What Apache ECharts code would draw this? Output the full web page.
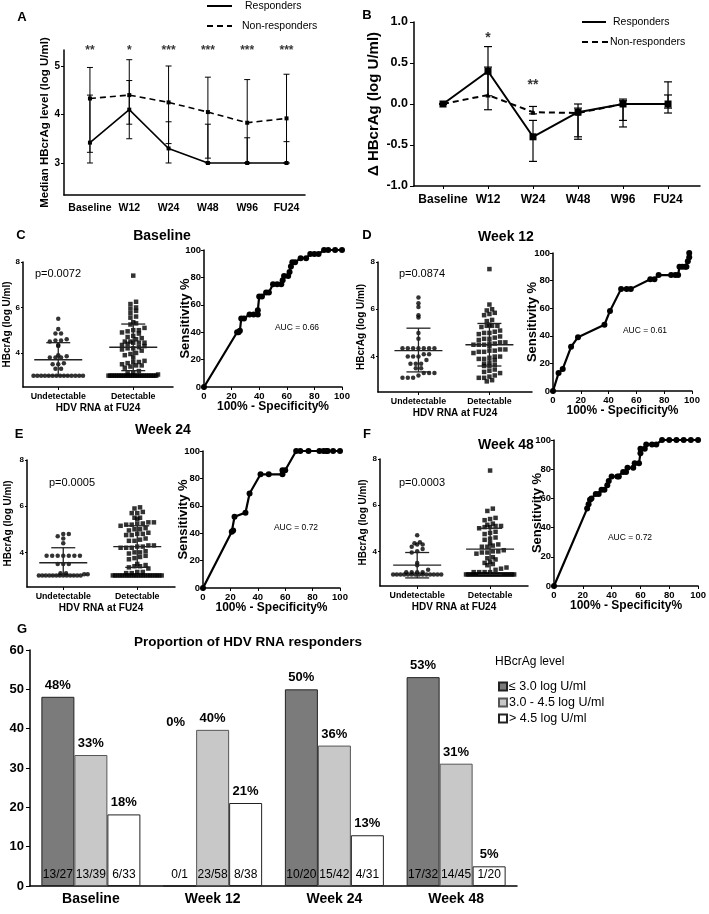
<!DOCTYPE html>
<html><head><meta charset="utf-8">
<script src="https://cdn.jsdelivr.net/npm/echarts@6/dist/echarts.min.js"></script>
<style>html,body{margin:0;padding:0;background:#fff}#c{width:709px;height:914px}</style>
</head><body><div id="c"></div><script>
// ---------------- DATA ----------------
const timeCats = ['Baseline','W12','W24','W48','W96','FU24'];
const aStars = ['**','*','***','***','***','***'];
const aRespMed = [3.42,4.10,3.30,3.00,3.00,3.00];
const aRespLo  = [3.00,3.50,3.00,3.00,3.00,3.00];
const aRespHi  = [4.40,4.70,3.85,3.80,3.52,3.44];
const aNonMed  = [4.33,4.40,4.25,4.05,3.83,3.92];
const aNonLo   = [3.22,3.80,3.40,3.10,3.00,3.00];
const aNonHi   = [4.97,5.13,5.00,4.77,4.72,4.83];

const bStars = ['','*','**','','',''];
const bRespMed = [0,0.40,-0.40,-0.10,0,0];
const bRespLo  = [0,0.10,-0.70,-0.43,-0.28,-0.11];
const bRespHi  = [0,0.70,-0.20,0.00,0.06,0.27];
const bNonMed  = [0,0.11,-0.10,-0.11,0,0];
const bNonLo   = [0,-0.07,-0.12,-0.40,-0.20,-0.05];
const bNonHi   = [0,0.45,-0.03,-0.05,0.04,0.11];

const seriesNames = ['Responders','Non-responders'];
const scatterGroups = ['Undetectable','Detectable'];

// Panel C (Baseline)
const cUnd = [5.5,5.05,4.85,4.85,4.6,4.55,4.55,4.5,4.35,4.3,3.9,3.85,3.8,3.8,3.8,3.55,3.5,3.5,3.3,3.3,
  3,3,3,3,3,3,3,3,3,3,3,3,3,3];
const cDet = [7.4,6.25,6.15,6.0,5.95,5.85,5.75,5.6,5.55,5.35,5.3,5.25,5.1,5.0,5.0,4.95,4.9,4.85,4.75,4.7,4.65,4.6,
  4.5,4.5,4.45,4.45,4.45,4.4,4.35,4.3,4.25,4.2,4.2,4.15,4.1,4.0,3.95,3.9,3.8,3.65,3.6,3.6,3.55,3.5,3.45,3.45,3.4,3.35,
  3.2,3.15,3.1,3.05,3,3,3,3,3,3,3,3,3,3,3,3,3,3,3,3,3,3,3,3,3,3,3,3,3,3,3,3];
const cUndStat = [3.70,3.00,4.45];   // median, lower, upper
const cDetStat = [4.25,3.22,5.27];
const cRocX = [0,24,25,26,27,29,33,36,39,39,40,42,45,47,50,53,56,57,58,61,62,63,64,66,70,74,77,80,83,87,90,95,100];
const cRocY = [0,40,40,41,50,50,53,53,53,56,66,66,69,69,75,75,75,78,81,81,84,88,91,91,94,94,97,97,97,100,100,100,100];

// Panel D (Week 12)
const dUnd = [6.5,6.25,6.1,5.75,5.65,5.0,4.75,4.35,4.35,4.35,4.35,4.35,4.35,4.35,4.1,4.1,4.0,4.0,4.0,3.85,3.7,3.7,3.7,
  3.5,3.5,3.3,3.3,3.3,3.2,3.1,3.1,3.1];
const dDet = [7.7,6.2,6.0,5.95,5.85,5.8,5.75,5.55,5.5,5.35,5.3,5.3,5.3,5.25,5.1,5.05,5.0,5.0,4.95,4.85,4.8,4.75,4.75,4.7,
  4.6,4.6,4.55,4.55,4.5,4.5,4.5,4.45,4.3,4.3,4.25,4.25,4.2,4.2,4.15,4.0,4.0,3.95,3.9,3.9,3.85,3.75,3.7,3.65,3.6,3.6,
  3.45,3.4,3.35,3.3,3.2,3.15,3.1,3.1,3.0,2.95];
const dUndStat = [4.25,3.35,5.20];
const dDetStat = [4.50,3.60,5.40];
const dRocX = [0,4,7,13,18,37,41,49,53,56,70,73,76,85,88,90,91,93,95,96,97,98,98];
const dRocY = [0,13,16,32,39,48,58,74,74,74,81,81,84,84,84,84,90,90,90,90,94,97,100];

// Panel E (Week 24)
const eUnd = [4.8,4.8,4.7,4.6,4.4,3.85,3.85,3.85,3.85,3.85,3.85,3.85,3.5,3.5,3.5,3.1,3.1,3.05,3.05,
  3,3,3,3,3,3,3,3,3,3,3,3,3];
const eDet = [5.95,5.9,5.75,5.7,5.7,5.5,5.5,5.45,5.3,5.3,5.25,5.25,5.2,5.2,5.15,5.05,5.0,5.0,4.95,4.85,4.8,4.8,4.75,4.75,
  4.6,4.55,4.5,4.5,4.3,4.3,4.25,4.25,4.2,4.2,4.2,4.05,4.0,4.0,3.95,3.85,3.8,3.75,3.7,3.5,3.45,3.4,3.4,3.35,3.3,
  3.15,3.15,3.1,3.1,3,3,3,3,3,3,3,3,3,3,3,3,3,3,3,3,3,3,3,3,3,3];
const eUndStat = [3.55,3.00,4.20];
const eDetStat = [4.25,3.35,5.15];
const eRocX = [0,21,22,23,31,34,42,48,58,58,60,68,71,77,85,88,90,91,95,100];
const eRocY = [0,41,42,52,55,69,83,83,83,86,86,100,100,100,100,100,100,100,100,100];

// Panel F (Week 48)
const fUnd = [4.7,4.4,4.35,4.3,4.3,4.2,4.1,4.0,3.95,3.5,3.4,3.2,3.1,3.1,3.1,3.1,
  3,3,3,3,3,3,3,3,3,3,3,3,3,3];
const fDet = [7.5,5.85,5.75,5.45,5.4,5.35,5.2,5.15,5.1,5.1,5.05,5.05,5.0,4.85,4.8,4.75,4.6,4.55,4.5,4.35,4.3,4.25,4.2,4.2,
  4.05,4.0,4.0,3.95,3.95,3.9,3.75,3.7,3.65,3.55,3.5,3.45,3.4,3.3,3.25,3.2,3.1,3.1,3.1,3.1,
  3,3,3,3,3,3,3,3,3,3,3,3,3,3,3,3,3,3,3,3,3,3,3,3,3];
const fUndStat = [3.40,2.85,3.95];
const fDetStat = [4.10,3.00,5.00];
const fRocX = [0,23,24,25,26,29,31,33,35,37,38,40,44,45,48,50,51,55,56,59,60,60,63,64,68,71,75,80,85,90,95,100];
const fRocY = [0,53,56,59,60,63,63,66,66,69,72,75,75,75,78,78,81,81,84,84,91,94,94,97,97,97,100,100,100,100,100,100];

const panelTitles = ['Baseline','Week 12','Week 24','Week 48'];
const pValues = ['p=0.0072','p=0.0874','p=0.0005','p=0.0003'];
const aucTexts = ['AUC = 0.66','AUC = 0.61','AUC = 0.72','AUC = 0.72'];

// Panel G
const gCats = ['Baseline','Week 12','Week 24','Week 48'];
const gLevels = ['\u2264 3.0 log U/ml','3.0 - 4.5 log U/ml','> 4.5 log U/ml'];
const gLow  = [48.1,0,50.0,53.1];
const gMid  = [33.3,39.7,35.7,31.1];
const gHigh = [18.2,21.1,12.9,5.0];
const gLowPct  = ['48%','0%','50%','53%'];
const gMidPct  = ['33%','40%','36%','31%'];
const gHighPct = ['18%','21%','13%','5%'];
const gLowFrac  = ['13/27','0/1','10/20','17/32'];
const gMidFrac  = ['13/39','23/58','15/42','14/45'];
const gHighFrac = ['6/33','8/38','4/31','1/20'];

// ---------------- HELPERS ----------------
const F = "'Liberation Sans', Arial, Helvetica, sans-serif";
const FN = "'Liberation Sans Narrow', 'Arial Narrow', 'Liberation Sans', Arial, sans-serif";
function merge(a,b){const o=Object.assign({},a);for(const k in b){const v=b[k];if(v&&typeof v==='object'&&!Array.isArray(v)&&o[k]&&typeof o[k]==='object'&&!Array.isArray(o[k]))o[k]=merge(o[k],v);else o[k]=v;}return o;}
const baseAxis = {type:'value', splitLine:{show:false}, nameMoveOverlap:false,
  axisLine:{show:true,onZero:false,lineStyle:{color:'#000',width:1.5}},
  axisTick:{show:true,length:3,lineStyle:{color:'#000',width:1}},
  axisLabel:{color:'#000',fontFamily:F,fontWeight:'bold',fontSize:10,margin:4},
  nameTextStyle:{color:'#000',fontFamily:F,fontWeight:'bold',fontSize:10}};
function ax(o){return merge(baseAxis,o);}
function pairs(xs,ys){return xs.map((x,i)=>[x,ys[i]]);}
function idxPairs(ys){return ys.map((y,i)=>[i,y]);}
// GraphPad-like row binning: values in the same row are spread side by side
function swarm(vals, center){
  const binSize=0.2, step=0.075, maxHalf=0.33;
  const sorted=vals.slice().sort((a,b)=>a-b);
  const bins=new Map();
  sorted.forEach(v=>{const k=Math.round(v/binSize);if(!bins.has(k))bins.set(k,[]);bins.get(k).push(v);});
  const pts=[];
  bins.forEach(arr=>{const n=arr.length;let s=step;if(n>1&&(n-1)*s/2>maxHalf)s=2*maxHalf/(n-1);
    arr.forEach((v,i)=>pts.push([center+(i-(n-1)/2)*s,v]));});
  return pts;
}
function errRender(capHalf,lw){return function(params,api){
  const x=api.value(0),lo=api.value(1),hi=api.value(2);
  const p1=api.coord([x,lo]),p2=api.coord([x,hi]);
  const st={stroke:'#000',lineWidth:lw};
  return {type:'group',children:[
    {type:'line',shape:{x1:p1[0],y1:p1[1],x2:p2[0],y2:p2[1]},style:st},
    {type:'line',shape:{x1:p1[0]-capHalf,y1:p1[1],x2:p1[0]+capHalf,y2:p1[1]},style:st},
    {type:'line',shape:{x1:p2[0]-capHalf,y1:p2[1],x2:p2[0]+capHalf,y2:p2[1]},style:st}]};
};}
function statRender(medHalf,sdHalf){return function(params,api){
  const x=api.value(0),m=api.value(1),lo=api.value(2),hi=api.value(3);
  const pm=api.coord([x,m]),pl=api.coord([x,lo]),ph=api.coord([x,hi]);
  const st={stroke:'#222',lineWidth:1.3};
  return {type:'group',children:[
    {type:'line',shape:{x1:pm[0]-medHalf,y1:pm[1],x2:pm[0]+medHalf,y2:pm[1]},style:st},
    {type:'line',shape:{x1:pl[0],y1:pl[1],x2:ph[0],y2:ph[1]},style:st},
    {type:'line',shape:{x1:pl[0]-sdHalf,y1:pl[1],x2:pl[0]+sdHalf,y2:pl[1]},style:st},
    {type:'line',shape:{x1:ph[0]-sdHalf,y1:ph[1],x2:ph[0]+sdHalf,y2:ph[1]},style:st}]};
};}

// ---------------- GRIDS ----------------
const grids = [
  {left:64,top:50,width:241,height:145},    // 0 A
  {left:414,top:22,width:286,height:164},   // 1 B
  {left:23,top:262,width:150,height:125},   // 2 C scatter
  {left:204,top:250,width:138,height:137},  // 3 C ROC
  {left:378,top:262,width:154,height:130},  // 4 D scatter
  {left:553,top:253,width:139,height:138},  // 5 D ROC
  {left:27,top:460,width:148,height:127},   // 6 E scatter
  {left:203,top:451,width:137,height:137},  // 7 E ROC
  {left:380,top:459,width:148,height:127},  // 8 F scatter
  {left:554,top:440,width:146,height:146},  // 9 F ROC
  {left:30,top:650,width:487,height:236}    // 10 G
];

const xAxes = [], yAxes = [], series = [];
// A
xAxes.push(ax({gridIndex:0,min:-0.66,max:5.47,axisTick:{show:false},
  axisLabel:{customValues:[0,1,2,3,4,5],formatter:v=>timeCats[Math.round(v)],fontSize:10.5,margin:8}}));
yAxes.push(ax({gridIndex:0,min:2.34,max:5.33,axisLabel:{customValues:[3,4,5],fontSize:10},axisTick:{customValues:[3,4,5]},
  name:'Median HBcrAg level (log U/ml)',nameLocation:'middle',nameGap:13,nameTextStyle:{fontSize:11.5}}));
// B
xAxes.push(ax({gridIndex:1,min:-0.644,max:5.71,axisTick:{customValues:[0,1,2,3,4,5]},
  axisLabel:{customValues:[0,1,2,3,4,5],formatter:v=>timeCats[Math.round(v)],fontSize:12,margin:8}}));
yAxes.push(ax({gridIndex:1,min:-1,max:1,interval:0.5,axisTick:{length:4},
  axisLabel:{formatter:v=>v.toFixed(1),fontSize:12.5,margin:6},
  name:'\u0394 HBcrAg (log U/ml)',nameLocation:'middle',nameGap:33,nameTextStyle:{fontSize:15}}));
// scatter + ROC panels
const scatterCfg = [
  {g:2,min:-0.47,max:1.53,und:cUnd,det:cDet,us:cUndStat,ds:cDetStat,gap:11},
  {g:4,min:-0.57,max:1.6,und:dUnd,det:dDet,us:dUndStat,ds:dDetStat,gap:12},
  {g:6,min:-0.49,max:1.51,und:eUnd,det:eDet,us:eUndStat,ds:eDetStat,gap:14},
  {g:8,min:-0.51,max:1.52,und:fUnd,det:fDet,us:fUndStat,ds:fDetStat,gap:12}];
const rocCfg = [{g:3,x:cRocX,y:cRocY,gap:12},{g:5,x:dRocX,y:dRocY,gap:14},{g:7,x:eRocX,y:eRocY,gap:13},{g:9,x:fRocX,y:fRocY,gap:10}];
for(let p=0;p<4;p++){
  const s=scatterCfg[p], r=rocCfg[p];
  xAxes.push(ax({gridIndex:s.g,min:s.min,max:s.max,axisTick:{customValues:[0,1],length:3},
    axisLabel:{customValues:[0,1],formatter:v=>scatterGroups[Math.round(v)],fontSize:8.8,margin:5},
    name:'HDV RNA at FU24',nameLocation:'middle',nameGap:16,nameTextStyle:{fontSize:10}}));
  yAxes.push(ax({gridIndex:s.g,min:2.5,max:8,axisLabel:{customValues:[4,6,8],fontSize:8,margin:3},
    axisTick:{customValues:[4,6,8],length:2},
    name:'HBcrAg (log U/ml)',nameLocation:'middle',nameGap:s.gap,nameTextStyle:{fontSize:10}}));
  xAxes.push(ax({gridIndex:r.g,min:0,max:100,interval:20,axisTick:{length:3},axisLabel:{fontSize:9.5,margin:4},
    name:'100% - Specificity%',nameLocation:'middle',nameGap:14,nameTextStyle:{fontSize:12}}));
  yAxes.push(ax({gridIndex:r.g,min:0,max:100,interval:20,axisTick:{length:3},axisLabel:{fontSize:9.5,margin:3},
    name:'Sensitivity %',nameLocation:'middle',nameGap:r.gap,nameTextStyle:{fontSize:13}}));
}
// G
xAxes.push({type:'category',gridIndex:10,data:gCats,axisTick:{show:false},
  axisLine:{lineStyle:{color:'#000',width:1.5}},
  axisLabel:{color:'#000',fontFamily:FN,fontWeight:'bold',fontSize:14,margin:6}});
xAxes.push({type:'category',gridIndex:10,data:gCats,show:false});
yAxes.push(ax({gridIndex:10,min:0,max:60,interval:10,axisTick:{length:4},axisLabel:{fontSize:13,fontFamily:FN,margin:6}}));

// ---------- series ----------
// A
series.push({type:'custom',xAxisIndex:0,yAxisIndex:0,renderItem:errRender(3,1),
  data:aNonLo.map((v,i)=>[i,v,aNonHi[i]]),encode:{x:0,y:[1,2]},z:1});
series.push({type:'custom',xAxisIndex:0,yAxisIndex:0,renderItem:errRender(3,1),
  data:aRespLo.map((v,i)=>[i,v,aRespHi[i]]),encode:{x:0,y:[1,2]},z:1});
series.push({type:'line',name:seriesNames[0],xAxisIndex:0,yAxisIndex:0,data:idxPairs(aRespMed),
  symbol:'rect',symbolSize:4,itemStyle:{color:'#000'},lineStyle:{color:'#000',width:1.6},z:3});
series.push({type:'line',name:seriesNames[1],xAxisIndex:0,yAxisIndex:0,data:idxPairs(aNonMed),
  symbol:'rect',symbolSize:4,itemStyle:{color:'#000'},lineStyle:{color:'#000',width:1.6,type:[6,4]},z:3});
series.push({type:'scatter',xAxisIndex:0,yAxisIndex:0,data:aStars.map((s,i)=>[i,5.32]),clip:false,
  symbolSize:10,itemStyle:{color:'rgba(0,0,0,0)'},
  label:{show:true,position:'inside',formatter:p=>aStars[p.dataIndex],color:'#000',fontFamily:F,fontWeight:'bold',fontSize:12}});
// B
series.push({type:'custom',xAxisIndex:1,yAxisIndex:1,renderItem:errRender(4,1.2),
  data:bNonLo.map((v,i)=>[i,v,bNonHi[i]]),encode:{x:0,y:[1,2]},z:1});
series.push({type:'custom',xAxisIndex:1,yAxisIndex:1,renderItem:errRender(4,1.2),
  data:bRespLo.map((v,i)=>[i,v,bRespHi[i]]),encode:{x:0,y:[1,2]},z:1});
series.push({type:'line',name:seriesNames[0],xAxisIndex:1,yAxisIndex:1,data:idxPairs(bRespMed),
  symbol:'rect',symbolSize:7,itemStyle:{color:'#000'},lineStyle:{color:'#000',width:2},z:3});
series.push({type:'line',name:seriesNames[1],xAxisIndex:1,yAxisIndex:1,data:idxPairs(bNonMed),
  symbol:'triangle',symbolSize:5,itemStyle:{color:'#000'},lineStyle:{color:'#000',width:2,type:[6,4]},z:3});
series.push({type:'scatter',xAxisIndex:1,yAxisIndex:1,data:[[1,0.80],[2,0.235]],clip:false,
  symbolSize:10,itemStyle:{color:'rgba(0,0,0,0)'},
  label:{show:true,position:'inside',formatter:p=>bStars[p.data[0]],color:'#000',fontFamily:F,fontWeight:'bold',fontSize:14}});
// C-F
for(let p=0;p<4;p++){
  const s=scatterCfg[p], r=rocCfg[p];
  const xi=2+p*2, yi=2+p*2;
  series.push({type:'scatter',xAxisIndex:xi,yAxisIndex:yi,data:swarm(s.und,0),symbol:'circle',symbolSize:4.5,
    itemStyle:{color:'#000'},z:2});
  series.push({type:'scatter',xAxisIndex:xi,yAxisIndex:yi,data:swarm(s.det,1),symbol:'rect',symbolSize:4.5,
    itemStyle:{color:'#000'},z:2});
  series.push({type:'custom',xAxisIndex:xi,yAxisIndex:yi,renderItem:statRender(24,12),
    data:[[0].concat(s.us),[1].concat(s.ds)],encode:{x:0,y:[1,2,3]},z:3});
  series.push({type:'line',xAxisIndex:xi+1,yAxisIndex:yi+1,data:pairs(r.x,r.y),symbol:'circle',symbolSize:6,
    showAllSymbol:true,itemStyle:{color:'#000'},lineStyle:{color:'#000',width:2.2},z:2});
}
// G bars
const barColors = ['#7b7b7b','#c8c8c8','#ffffff'];
const barBorders = ['#222','#555','#222'];
const gVals=[gLow,gMid,gHigh], gPcts=[gLowPct,gMidPct,gHighPct], gFracs=[gLowFrac,gMidFrac,gHighFrac];
for(let k=0;k<3;k++){
  series.push({type:'bar',name:gLevels[k],xAxisIndex:10,yAxisIndex:10,barWidth:33,barGap:'0%',
    itemStyle:{color:barColors[k],borderColor:barBorders[k],borderWidth:1},
    data:gVals[k].map((v,i)=>{const d={value:v};
      if(v===0) d.label={offset:[-4,-152]};
      return d;}),
    label:{show:true,position:'top',distance:5,formatter:p=>gPcts[k][p.dataIndex],color:'#000',
      fontFamily:FN,fontWeight:'bold',fontSize:13}});
}
for(let k=0;k<3;k++){
  series.push({type:'bar',xAxisIndex:11,yAxisIndex:10,barWidth:33,barGap:'0%',
    itemStyle:{color:'rgba(0,0,0,0)'},data:gVals[k].slice(),silent:true,
    label:{show:true,position:'insideBottom',distance:5,formatter:p=>gFracs[k][p.dataIndex],color:'#000',
      fontFamily:FN,fontSize:12}});
}

// ---------- graphic texts ----------
function txt(x,y,t,o){return {type:'text',x,y,style:Object.assign({text:t,fill:'#000',font:'bold 13px '+F,textAlign:'center',textVerticalAlign:'middle'},o||{})};}
function seg(x1,y1,x2,y2,dash){return {type:'line',shape:{x1,y1,x2,y2},style:{stroke:'#000',lineWidth:2,lineDash:dash||null}};}
const T = {font:'bold 14px '+F};
const graphics = [
  txt(22,17,'A'), txt(367,15,'B'),
  seg(207,6,232,6), txt(245,6,seriesNames[0],{font:'10.5px '+F,textAlign:'left'}),
  seg(207,26,232,26,[6,4]), txt(242,26,seriesNames[1],{font:'10.5px '+F,textAlign:'left'}),
  seg(582,22,606,22), txt(613,22,seriesNames[0],{font:'10.5px '+F,textAlign:'left'}),
  seg(582,42,608,42,[6,4]), txt(610,42,seriesNames[1],{font:'10.5px '+F,textAlign:'left'}),
  txt(21,235,'C'), txt(367,235,'D'), txt(19,434,'E'), txt(367,434,'F'), txt(22,629,'G'),
  txt(162,236,panelTitles[0],T),
  txt(506,237,panelTitles[1],T),
  txt(163,430,panelTitles[2],T),
  txt(506,445,panelTitles[3],T),
  txt(58,274,pValues[0],{font:'11px '+F}),
  txt(422,274,pValues[1],{font:'11px '+F}),
  txt(72,483,pValues[2],{font:'11px '+F}),
  txt(422,483,pValues[3],{font:'11px '+F}),
  txt(297,328,aucTexts[0],{font:'8.5px '+F}),
  txt(645,331,aucTexts[1],{font:'8.5px '+F}),
  txt(296,528,aucTexts[2],{font:'8.5px '+F}),
  txt(630,538,aucTexts[3],{font:'8.5px '+F}),
  txt(248,642,'Proportion of HDV RNA responders',{font:'bold 13.5px '+F}),
  txt(495,662,'HBcrAg level',{font:'12px '+FN,textAlign:'left'})
];

const chart = echarts.init(document.getElementById('c'));
chart.setOption({
  animation:false,
  backgroundColor:'#fff',
  grid:grids,
  xAxis:xAxes,
  yAxis:yAxes,
  series:series,
  legend:{data:gLevels,left:493,top:675,orient:'vertical',itemWidth:8,itemHeight:8,itemGap:3,
    textStyle:{color:'#000',fontFamily:FN,fontSize:12.5,lineHeight:13,padding:[0,0,0,-3]},icon:'rect'},
  graphic:graphics
});
</script></body></html>
